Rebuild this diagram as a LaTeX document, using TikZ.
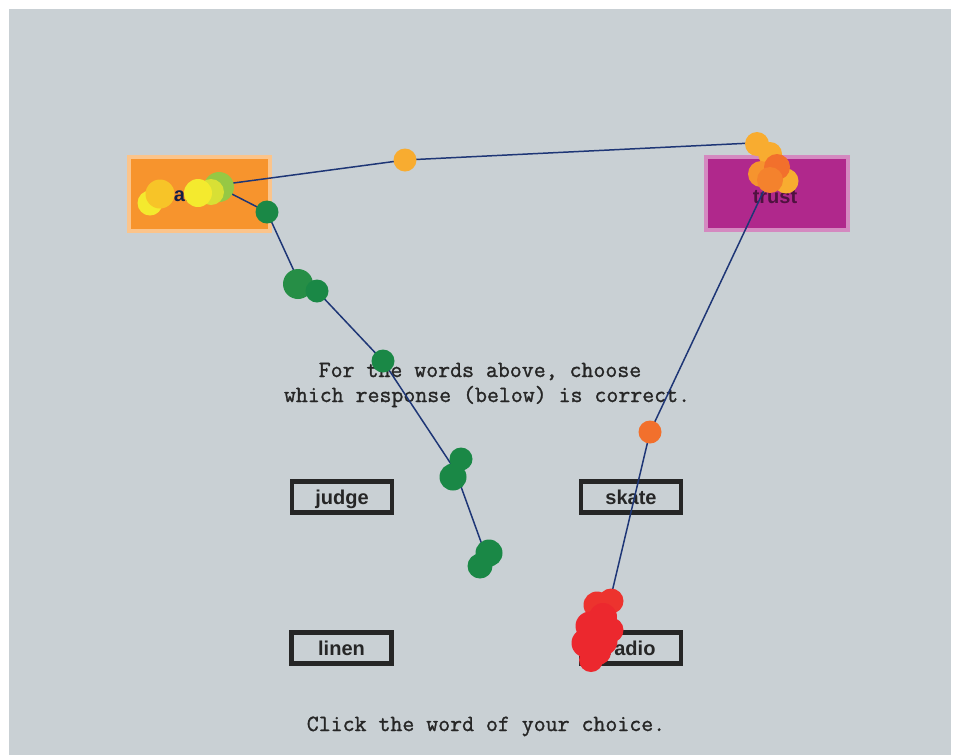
\documentclass[tikz,border=0pt]{standalone}
\usepackage{fontspec}
\setmainfont{Liberation Sans}
\setmonofont[FakeBold=1.2]{Latin Modern Mono}
\usetikzlibrary{positioning}

\definecolor{bggray}{RGB}{201,208,212}
\definecolor{pathblue}{RGB}{30,54,118}
\definecolor{boxorange}{RGB}{247,148,45}
\definecolor{boxmagenta}{RGB}{176,40,140}
\definecolor{fixgreen}{RGB}{26,136,70}
\definecolor{fixlime}{RGB}{150,200,68}
\definecolor{fixyellow}{RGB}{244,234,46}
\definecolor{fixamber}{RGB}{247,196,40}
\definecolor{fixorange}{RGB}{248,172,48}
\definecolor{fixcoral}{RGB}{242,112,44}
\definecolor{fixred}{RGB}{236,40,46}

\begin{document}
\begin{tikzpicture}[x=0.02cm,y=-0.02cm]
  \tikzset{fixdot/.style={circle, inner sep=0pt, minimum size=#1},
           fixdot/.default=0.44cm}
  \tikzset{word/.style={draw=black!85, line width=2.3pt, minimum width=2cm,
             minimum height=0.62cm, inner sep=0pt, text height=9pt, text depth=1pt,
             font=\fontsize{11.4}{13}\selectfont\bfseries, text=black!85}}
  \tikzset{prompt/.style={anchor=base, font=\fontsize{13.2}{15}\selectfont\ttfamily, text=black!85}}
  \tikzset{trace/.style={draw=pathblue, line width=0.85pt}}

  \useasboundingbox (0,0) rectangle (953,755);
  \fill[white] (0,0) rectangle (953,755);
  \fill[bggray] (9,9) rectangle (951,755);

  % words above
  \node[fill=boxorange, draw=boxorange!55!white, line width=2pt,
        minimum width=2.83cm, minimum height=1.49cm] (bank) at (199.5,194) {};
  \node[font=\fontsize{11.4}{13}\selectfont\bfseries, text=pathblue!60!black] (bankword) at (185,194) {bank};
  \node[fill=boxmagenta, draw=boxmagenta!55!white, line width=2pt,
        minimum width=2.85cm, minimum height=1.47cm] (trust) at (777,193.5) {};
  \node[font=\fontsize{11.4}{13}\selectfont\bfseries, text=boxmagenta!45!black] (trustword) at (775,197) {trust};

  % instructions
  \node[prompt] (ask1) at (480,377) {For the words above, choose};
  \node[prompt] (ask2) at (487,402) {which response (below) is correct.};
  \node[prompt] (click) at (486,731) {Click the word of your choice.};

  % responses
  \node[word] (judge) at (342,497) {judge};
  \node[word] (skate) at (631,497) {skate};
  \node[word] (linen) at (341.5,648) {linen};
  \node[word] (radio) at (631,648) {radio};

  % scan path
  \coordinate (pB1) at (226,184);
  \coordinate (pB2) at (228,192);
  \coordinate (pO) at (405,160);
  \coordinate (pT1) at (752,143);
  \coordinate (pT2) at (765,188);
  \coordinate (pC) at (650,432);
  \coordinate (pR) at (612,592);
  \coordinate (pG1) at (267,212);
  \coordinate (pG2) at (300,284);
  \coordinate (pG3) at (317,291);
  \coordinate (pG4) at (383,361);
  \coordinate (pG5) at (455,470);
  \coordinate (pG6) at (485,553);

  \draw[trace] (pB1) -- (pO) -- (pT1);
  \draw[trace] (pT2) -- (pC) -- (pR);
  \draw[trace] (pB2) -- (pG1) -- (pG2) -- (pG3) -- (pG4) -- (pG5) -- (pG6);

  % fixations
  \node[fixdot=0.6cm, fill=fixlime] (f1) at (219,187) {};
  \node[fixdot=0.52cm, fill=fixyellow!70!fixlime] (f2) at (211,192) {};
  \node[fixdot=0.56cm, fill=fixyellow] (f3) at (198,193) {};
  \node[fixdot=0.5cm, fill=fixyellow] (f5) at (150,203) {};
  \node[fixdot=0.58cm, fill=fixamber] (f4) at (160,194) {};

  \node[fixdot=0.46cm, fill=fixgreen] (g1) at (267,212) {};
  \node[fixdot=0.6cm, fill=fixgreen!90!fixlime] (g2) at (298,284) {};
  \node[fixdot=0.46cm, fill=fixgreen] (g3) at (317,291) {};
  \node[fixdot=0.46cm, fill=fixgreen] (g4) at (383,361) {};
  \node[fixdot=0.46cm, fill=fixgreen] (g5) at (461,459) {};
  \node[fixdot=0.54cm, fill=fixgreen] (g6) at (453,477) {};
  \node[fixdot=0.54cm, fill=fixgreen] (g7) at (489,553) {};
  \node[fixdot=0.5cm, fill=fixgreen] (g8) at (480,566) {};

  \node[fixdot=0.46cm, fill=fixorange] (o1) at (405,160) {};

  \node[fixdot=0.48cm, fill=fixorange] (t1) at (757,144) {};
  \node[fixdot=0.48cm, fill=fixorange] (t2) at (770,154) {};
  \node[fixdot=0.52cm, fill=fixorange!60!fixcoral] (t3) at (761,174) {};
  \node[fixdot=0.5cm, fill=fixorange] (t4) at (786,181) {};
  \node[fixdot=0.52cm, fill=fixcoral] (t5) at (777,167) {};
  \node[fixdot=0.52cm, fill=fixcoral!70!fixorange] (t6) at (770,180) {};

  \node[fixdot=0.46cm, fill=fixcoral] (c1) at (650,432) {};

  \node[fixdot=0.5cm, fill=fixred!85!fixcoral] (r1) at (611,601) {};
  \node[fixdot=0.54cm, fill=fixred!85!fixcoral] (r2) at (597,605) {};
  \node[fixdot=0.56cm, fill=fixred] (r7) at (603,617) {};
  \node[fixdot=0.58cm, fill=fixred] (r3) at (590,626) {};
  \node[fixdot=0.5cm, fill=fixred] (r8) at (611,630) {};
  \node[fixdot=0.58cm, fill=fixred] (r4) at (603,641) {};
  \node[fixdot=0.58cm, fill=fixred] (r5) at (586,643) {};
  \node[fixdot=0.52cm, fill=fixred] (r9) at (598,652) {};
  \node[fixdot=0.48cm, fill=fixred] (r6) at (591,660) {};
\end{tikzpicture}
\end{document}
